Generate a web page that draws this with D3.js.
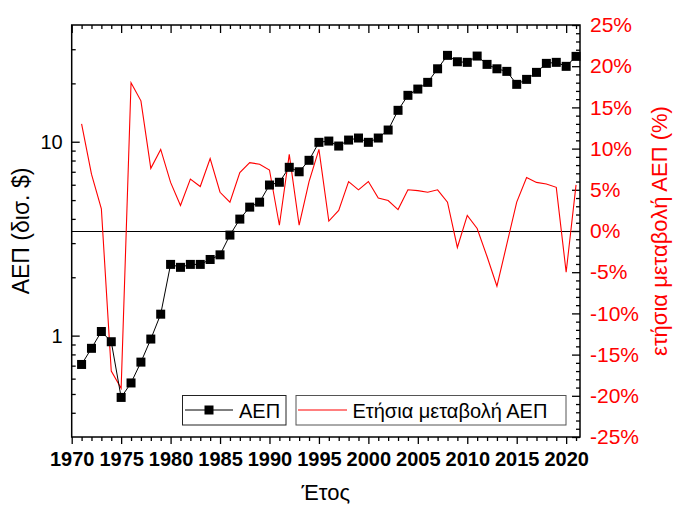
<!DOCTYPE html>
<html>
<head>
<meta charset="utf-8">
<script src="https://cdn.jsdelivr.net/npm/d3@7"></script>
<style>
  html, body { margin: 0; padding: 0; background: #fff; }
  svg { display: block; font-family: "Liberation Sans", Arial, sans-serif; }
</style>
</head>
<body>
<svg id="chart" width="673" height="505"></svg>
<script>
// Years 1971–2021
const years = d3.range(1971, 2022);

// GDP, billions of US dollars (left, logarithmic axis)
const gdp = [
  0.71, 0.86, 1.05, 0.93, 0.48, 0.57, 0.73, 0.96, 1.29,
  2.33, 2.25, 2.33, 2.33, 2.47, 2.61, 3.30, 3.99, 4.60, 4.88,
  5.98, 6.18, 7.38, 7.00, 8.02, 9.93, 10.08, 9.50, 10.2, 10.45,
  9.93, 10.45, 11.49, 14.52, 17.35, 18.69, 20.24, 23.78, 27.89, 25.85,
  25.67, 27.66, 25.06, 23.78, 23.06, 19.77, 20.97, 22.79, 25.36, 25.67,
  24.48, 27.56
];

// Annual GDP change, percent (right axis)
const growth = [
  13.0, 6.9, 2.7, -17.0, -19.1, 18.0, 15.8, 7.6, 9.9,
  5.9, 3.1, 6.3, 5.4, 8.8, 4.7, 3.5, 7.1, 8.3, 8.1,
  7.4, 0.7, 9.3, 0.7, 6.0, 9.9, 1.2, 2.5, 6.0, 5.0,
  6.0, 4.0, 3.7, 2.6, 5.0, 4.9, 4.7, 5.0, 3.5, -2.0,
  1.9, 0.3, -3.1, -6.7, -1.6, 3.5, 6.5, 5.9, 5.7, 5.3,
  -5.0, 5.6
];

// Tick values and labels
const xMajor = [1970, 1975, 1980, 1985, 1990, 1995, 2000, 2005, 2010, 2015, 2020];
const yLeftMajor = [1, 10];
const yRightMajor = [-25, -20, -15, -10, -5, 0, 5, 10, 15, 20, 25];

// Titles and legend text
const xTitle = "Έτος";
const yLeftTitle = "ΑΕΠ (δισ. $)";
const yRightTitle = "ετήσια μεταβολή ΑΕΠ (%)";
const legendGdp = "ΑΕΠ";
const legendGrowth = "Ετήσια μεταβολή ΑΕΠ";

const svg = d3.select("#chart");
const L = 71.7, R = 580, T = 25, B = 437;
const RED = "#ff0000";

const x = d3.scaleLinear().domain([1970, 2021.4]).range([L, R]);
const yL = d3.scaleLog().domain([0.3, 40]).range([B, T]);
const yR = d3.scaleLinear().domain([-25, 25]).range([B, T]);

const xMinor = d3.range(1970, 2022).filter(v => v % 5 !== 0);
const logMinor = [0.4, 0.5, 0.6, 0.7, 0.8, 0.9, 2, 3, 4, 5, 6, 7, 8, 9, 20, 30];
const rMinor = d3.range(-24, 25).filter(v => v % 5 !== 0);

function styleAxis(g) {
  g.select(".domain").remove();
  g.selectAll("line").attr("stroke", "#000").attr("stroke-width", 1.3);
}

// Bottom axis: outward ticks, bold year labels
svg.append("g").attr("transform", `translate(0,${B})`)
  .call(d3.axisBottom(x).tickValues(xMinor).tickSize(4).tickFormat(""))
  .call(styleAxis);
svg.append("g").attr("transform", `translate(0,${B})`)
  .call(d3.axisBottom(x).tickValues(xMajor).tickSize(7).tickPadding(8).tickFormat(d3.format("d")))
  .call(styleAxis)
  .call(g => g.selectAll("text").attr("font-size", 20).attr("font-weight", "bold").attr("fill", "#000"));

// Top axis: inward ticks only
svg.append("g").attr("transform", `translate(0,${T})`)
  .call(d3.axisBottom(x).tickValues(xMinor).tickSize(4).tickFormat(""))
  .call(styleAxis);
svg.append("g").attr("transform", `translate(0,${T})`)
  .call(d3.axisBottom(x).tickValues(xMajor).tickSize(8).tickFormat(""))
  .call(styleAxis);

// Left axis (log): inward ticks
svg.append("g").attr("transform", `translate(${L},0)`)
  .call(d3.axisRight(yL).tickValues(logMinor).tickSize(4).tickFormat(""))
  .call(styleAxis);
svg.append("g").attr("transform", `translate(${L},0)`)
  .call(d3.axisLeft(yL).tickValues(yLeftMajor).tickSizeInner(-8).tickSizeOuter(0).tickPadding(9).tickFormat(d3.format("d")))
  .call(styleAxis)
  .call(g => g.selectAll("text").attr("font-size", 20).attr("fill", "#000"));

// Right axis (percent): inward ticks, red labels
svg.append("g").attr("transform", `translate(${R},0)`)
  .call(d3.axisLeft(yR).tickValues(rMinor).tickSize(4).tickFormat(""))
  .call(styleAxis);
svg.append("g").attr("transform", `translate(${R},0)`)
  .call(d3.axisRight(yR).tickValues(yRightMajor).tickSizeInner(-8).tickSizeOuter(0).tickPadding(10).tickFormat(d => d + "%"))
  .call(styleAxis)
  .call(g => g.selectAll("text").attr("font-size", 21).attr("fill", RED));

// Zero reference line for the percent axis
svg.append("line")
  .attr("x1", L).attr("x2", R)
  .attr("y1", yR(0) + 0.5).attr("y2", yR(0) + 0.5)
  .attr("stroke", "#000").attr("stroke-width", 1)
  .attr("shape-rendering", "crispEdges");

// Annual change line
svg.append("path")
  .datum(years.map((yr, i) => [yr, growth[i]]))
  .attr("fill", "none").attr("stroke", RED).attr("stroke-width", 1.1)
  .attr("d", d3.line().x(d => x(d[0])).y(d => yR(d[1])));

// GDP line and square markers
svg.append("path")
  .datum(years.map((yr, i) => [yr, gdp[i]]))
  .attr("fill", "none").attr("stroke", "#000").attr("stroke-width", 1)
  .attr("d", d3.line().x(d => x(d[0])).y(d => yL(d[1])));
const S = 9;
svg.append("g").selectAll("rect")
  .data(years.map((yr, i) => [yr, gdp[i]]))
  .join("rect")
  .attr("x", d => x(d[0]) - S / 2).attr("y", d => yL(d[1]) - S / 2)
  .attr("width", S).attr("height", S).attr("fill", "#000");

// Plot frame
svg.append("rect")
  .attr("x", L).attr("y", T).attr("width", R - L).attr("height", B - T)
  .attr("fill", "none").attr("stroke", "#000").attr("stroke-width", 1.5);

// Legends
const lg1 = svg.append("g");
lg1.append("rect").attr("x", 182.5).attr("y", 395.5).attr("width", 103.5).attr("height", 29.5)
  .attr("fill", "#fff").attr("stroke", "#222").attr("stroke-width", 1);
lg1.append("line").attr("x1", 185).attr("x2", 233).attr("y1", 410).attr("y2", 410)
  .attr("stroke", "#000").attr("stroke-width", 1);
lg1.append("rect").attr("x", 209 - S / 2).attr("y", 410 - S / 2).attr("width", S).attr("height", S).attr("fill", "#000");
lg1.append("text").attr("x", 239).attr("y", 417.5).attr("font-size", 20).attr("fill", "#000").text(legendGdp);

const lg2 = svg.append("g");
lg2.append("rect").attr("x", 296).attr("y", 395.5).attr("width", 270).attr("height", 29.5)
  .attr("fill", "#fff").attr("stroke", "#555").attr("stroke-width", 1);
lg2.append("line").attr("x1", 298).attr("x2", 347).attr("y1", 410).attr("y2", 410)
  .attr("stroke", RED).attr("stroke-width", 1.1);
lg2.append("text").attr("x", 352.5).attr("y", 417.5).attr("font-size", 20).attr("fill", "#000").text(legendGrowth);

// Axis titles
svg.append("text").attr("x", (L + R) / 2).attr("y", 500).attr("text-anchor", "middle")
  .attr("font-size", 22).attr("fill", "#000").text(xTitle);
svg.append("text").attr("transform", `translate(29,${(T + B) / 2}) rotate(-90)`)
  .attr("text-anchor", "middle").attr("font-size", 23).attr("fill", "#000").text(yLeftTitle);
svg.append("text").attr("transform", `translate(667,${(T + B) / 2}) rotate(-90)`)
  .attr("text-anchor", "middle").attr("font-size", 22).attr("fill", RED).text(yRightTitle);
</script>
</body>
</html>
